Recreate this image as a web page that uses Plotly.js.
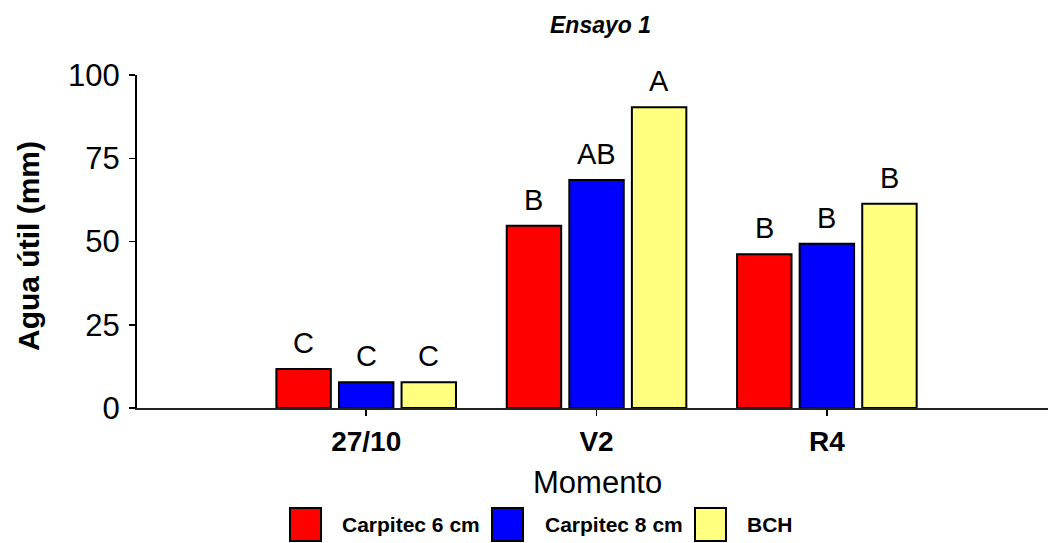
<!DOCTYPE html>
<html>
<head>
<meta charset="utf-8">
<script src="https://cdn.plot.ly/plotly-3.0.1.min.js"></script>
<style>html,body{margin:0;padding:0;background:#fff;}#chart{width:1049px;height:543px;}</style>
</head>
<body>
<div id="chart"></div>
<script>
const categories = ['27/10', 'V2', 'R4'];
const seriesNames = ['Carpitec 6 cm', 'Carpitec 8 cm', 'BCH'];
const carpitec6 = [11.7, 54.7, 46.2];
const carpitec8 = [7.7, 68.5, 49.3];
const bch = [7.7, 90.3, 61.3];
const letters6 = ['C', 'B', 'B'];
const letters8 = ['C', 'AB', 'B'];
const lettersBCH = ['C', 'A', 'B'];
const yTicks = [0, 25, 50, 75, 100];

const colors = ['#ff0000', '#0000ff', '#ffff80'];
const values = [carpitec6, carpitec8, bch];
const letters = [letters6, letters8, lettersBCH];
const FONT = 'Liberation Sans, Arial, sans-serif';

const W = 1049, H = 543;
const M = {l: 137, r: 1, t: 75, b: 135};
const pw = W - M.l - M.r, ph = H - M.t - M.b;
const px2x = p => (p - M.l) / pw;
const px2y = p => (H - M.b - p) / ph;

const bargap = 0.185, bargroupgap = 0.13;
const slot = (1 - bargap) / values.length;

const traces = values.map((v, i) => ({
  type: 'bar', name: seriesNames[i], x: categories, y: v,
  marker: {color: colors[i], line: {color: '#000', width: 2}},
  showlegend: false, hoverinfo: 'x+y'
}));

const annotations = [];
values.forEach((v, i) => {
  v.forEach((val, j) => {
    annotations.push({
      x: j + (i - (values.length - 1) / 2) * slot, y: val, xref: 'x', yref: 'y',
      text: letters[i][j], showarrow: false, yanchor: 'bottom', yshift: 8,
      font: {family: FONT, size: 29, color: '#000'}
    });
  });
});

annotations.push({
  text: 'Ensayo 1', xref: 'paper', yref: 'paper', x: px2x(600), y: px2y(25),
  showarrow: false, xanchor: 'center', yanchor: 'middle',
  font: {family: FONT, size: 23, color: '#000', weight: 'bold', style: 'italic'}
});
annotations.push({
  text: 'Momento', xref: 'paper', yref: 'paper', x: px2x(597), y: px2y(482),
  showarrow: false, xanchor: 'center', yanchor: 'middle',
  font: {family: FONT, size: 31, color: '#000'}
});
annotations.push({
  text: 'Agua útil (mm)', xref: 'paper', yref: 'paper', x: px2x(28), y: px2y(246),
  showarrow: false, xanchor: 'center', yanchor: 'middle', textangle: -90,
  font: {family: FONT, size: 30, color: '#000', weight: 'bold'}
});

// custom legend
const shapes = [];
const legBoxLeft = [290, 492, 695];
const legTextLeft = [340, 543, 745];
seriesNames.forEach((n, i) => {
  shapes.push({
    type: 'rect', xref: 'paper', yref: 'paper',
    x0: px2x(legBoxLeft[i]), x1: px2x(legBoxLeft[i] + 31),
    y0: px2y(508), y1: px2y(541),
    fillcolor: colors[i], line: {color: '#000', width: 2}
  });
  annotations.push({
    text: n, xref: 'paper', yref: 'paper', x: px2x(legTextLeft[i]), y: px2y(524),
    showarrow: false, xanchor: 'left', yanchor: 'middle',
    font: {family: FONT, size: 21, color: '#000', weight: 'bold'}
  });
});

const layout = {
  width: W, height: H, margin: M,
  paper_bgcolor: '#fff', plot_bgcolor: '#fff',
  barmode: 'group', bargap: bargap, bargroupgap: bargroupgap,
  showlegend: false,
  xaxis: {
    type: 'category', range: [-0.995, 2.96], showgrid: false, zeroline: false,
    showline: true, linecolor: '#222', linewidth: 2,
    ticks: 'outside', ticklen: 6, tickwidth: 1.5, tickcolor: '#000',
    ticklabelstandoff: 1,
    tickfont: {family: FONT, size: 28, color: '#000', weight: 'bold'}
  },
  yaxis: {
    range: [0, 100], tickvals: yTicks, showgrid: false, zeroline: false,
    showline: true, linecolor: '#000', linewidth: 2,
    ticks: 'outside', ticklen: 6, tickwidth: 1.5, tickcolor: '#000',
    ticklabelstandoff: 3,
    tickfont: {family: FONT, size: 31, color: '#000'}
  },
  annotations: annotations, shapes: shapes
};

Plotly.newPlot('chart', traces, layout, {displayModeBar: false, staticPlot: true});
</script>
</body>
</html>
